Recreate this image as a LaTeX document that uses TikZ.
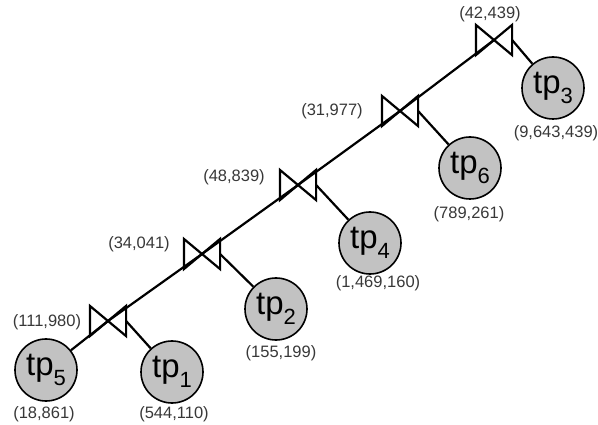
\documentclass[tikz,border=0pt]{standalone}
\usepackage{fontspec}
\setmainfont{Liberation Sans}
\usetikzlibrary{shapes}

% relation name with its lowered index
\newcommand{\tpname}[1]{tp\raisebox{-10pt}{\fontsize{22}{22}\selectfont #1}}

\tikzset{
  rel/.style={circle, draw, fill=black!24, line width=1.6pt, minimum size=62pt,
    inner sep=0pt, font=\fontsize{33}{33}\selectfont},
  joinop/.style={minimum width=34pt, minimum height=28pt, inner sep=0pt},
  card/.style={text=black!78, font=\fontsize{16.5}{19}\selectfont, inner sep=0pt}
}

\begin{document}
\begin{tikzpicture}[x=1pt, y=-1pt, line width=2.2pt]
	\useasboundingbox (0,0) rectangle (598,425);

	% join operators
	\node [joinop] (j1) at (108,321) {};
	\node [joinop] (j2) at (202,254) {};
	\node [joinop] (j3) at (298,185) {};
	\node [joinop] (j4) at (400,111) {};
	\node [joinop] (j5) at (494,40) {};
	\foreach \j in {j1,j2,j3,j4,j5}
		\draw [line join=miter] (\j.north west) -- (\j.south west) -- (\j.center) -- cycle
			(\j.north east) -- (\j.south east) -- (\j.center) -- cycle;

	% relations
	\node [rel] (t5) at (46,370) {\tpname{5}};
	\node [rel] (t1) at (172,372) {\tpname{1}};
	\node [rel] (t2) at (276,309) {\tpname{2}};
	\node [rel] (t4) at (370,243) {\tpname{4}};
	\node [rel] (t6) at (470,168) {\tpname{6}};
	\node [rel] (t3) at (553,88) {\tpname{3}};

	% left-deep spine and right inputs
	\draw (t5) -- (j1.center) -- (j2.center) -- (j3.center) -- (j4.center) -- (j5.center);
	\draw (j1.east) -- (t1);
	\draw (j2.east) -- (t2);
	\draw (j3.east) -- (t4);
	\draw (j4.east) -- (t6);
	\draw (j5.east) -- (t3);

	% cardinalities
	\node [card] (c1) at (47,322) {(111,980)};
	\node [card] (c2) at (139,244) {(34,041)};
	\node [card] (c3) at (234,177) {(48,839)};
	\node [card] (c4) at (332,111) {(31,977)};
	\node [card] (c5) at (490,14) {(42,439)};
	\node [card] (n5) at (44,414) {(18,861)};
	\node [card] (n1) at (174,414) {(544,110)};
	\node [card] (n2) at (281,353) {(155,199)};
	\node [card] (n4) at (378,283) {(1,469,160)};
	\node [card] (n6) at (469,214) {(789,261)};
	\node [card] (n3) at (556,133) {(9,643,439)};
\end{tikzpicture}
\end{document}
